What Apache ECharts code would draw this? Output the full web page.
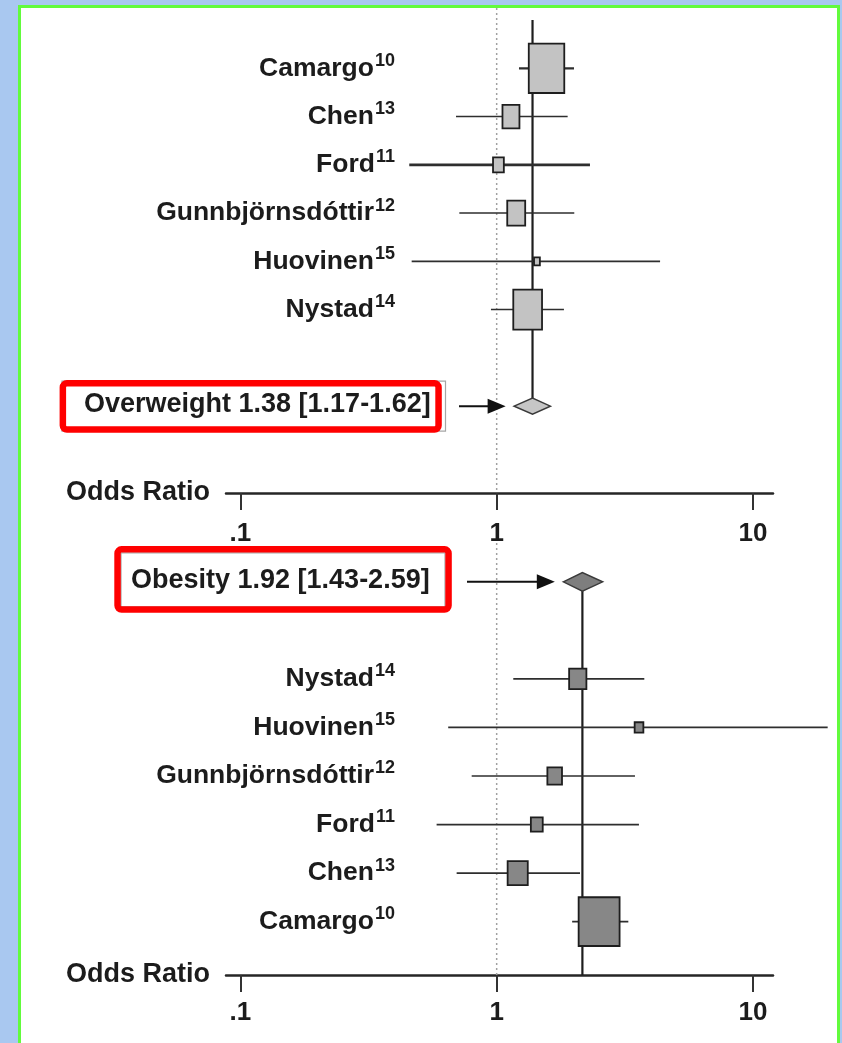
<!DOCTYPE html>
<html>
<head>
<meta charset="utf-8">
<script src="https://cdn.jsdelivr.net/npm/echarts@6/dist/echarts.min.js"></script>
<style>
  html, body { margin: 0; padding: 0; width: 842px; height: 1043px; overflow: hidden; background: #a9c8f0; }
  #frame { position: absolute; left: 18px; top: 5px; width: 822px; height: 1100px; box-sizing: border-box;
           border: 3px solid #62fb3c; background: #ffffff; }
  #chart { position: absolute; left: 0; top: 0; width: 842px; height: 1043px; }
</style>
</head>
<body>
<div id="frame"></div>
<div id="chart"></div>
<script>
// ---------------- DATA ----------------
// x axis (odds ratio, log scale)
const xTickValues = [0.1, 1, 10];
const xTickLabels = ['.1', '1', '10'];
const axisTitle = 'Odds Ratio';

// Upper panel: overweight
const owStudies = ['Camargo', 'Chen', 'Ford', 'Gunnbjörnsdóttir', 'Huovinen', 'Nystad'];
const owRefs    = ['10', '13', '11', '12', '15', '14'];
const owRows    = [1, 2, 3, 4, 5, 6];
const owOR      = [1.565, 1.137, 1.016, 1.192, 1.436, 1.321];
const owLow     = [1.222, 0.694, 0.456, 0.715, 0.466, 0.950];
const owHigh    = [2.003, 1.892, 2.312, 2.008, 4.34, 1.83];
const owWeight  = [44.2, 10.1, 4.1, 11.3, 1.2, 29.0];
const owPooledText = 'Overweight 1.38 [1.17-1.62]';
const owPooled  = [1.38, 1.17, 1.62];   // estimate, low, high
const owPooledRow = 8;

// Lower panel: obesity
const obStudies = ['Nystad', 'Huovinen', 'Gunnbjörnsdóttir', 'Ford', 'Chen', 'Camargo'];
const obRefs    = ['14', '15', '12', '11', '13', '10'];
const obRows    = [2, 3, 4, 5, 6, 7];
const obOR      = [2.072, 3.592, 1.684, 1.434, 1.208, 2.51];
const obLow     = [1.161, 0.647, 0.799, 0.583, 0.698, 1.97];
const obHigh    = [3.767, 19.56, 3.464, 3.59, 2.114, 3.263];
const obWeight  = [10.6, 2.7, 7.6, 5.0, 14.4, 59.6];
const obPooledText = 'Obesity 1.92 [1.43-2.59]';
const obPooled  = [2.16, 1.82, 2.59];   // as drawn: estimate, diamond left, diamond right
const obPooledRow = 0;

// ---------------- STYLE / LAYOUT ----------------
const FONT = '"Liberation Sans", Arial, Helvetica, sans-serif';
const TXT = '#1c1c1c';
const X_MIN = 0.0879, X_MAX = 11.97;
const LABEL_RIGHT = 395;

const panelStyle = [
  { fill: '#c3c3c3', diamondFill: '#c6c6c6', areaPerWeight: 39.6, aspect: 0.72, diamondH: 16,
    whiskerWidth: [2.2, 1.5, 2.6, 1.5, 1.6, 1.5],
    box: { x0: 59.6, x1: 441.8, h: 52.7, dy: 0.3 }, gray: { x0: 62, x1: 445.5, h: 50, dy: 0 },
    textLeft: 84, textDy: -1.5, arrowTail: 459 },
  { fill: '#878787', diamondFill: '#7e7e7e', areaPerWeight: 33.5, aspect: 0.84, diamondH: 18.5,
    whiskerWidth: [1.7, 1.7, 1.7, 1.7, 1.7, 1.7],
    box: { x0: 114.3, x1: 451.8, h: 66.7, dy: -2.4 }, gray: { x0: 121, x1: 445, h: 54, dy: -2 },
    textLeft: 131, textDy: -1.5, arrowTail: 467 }
];

function xLabel(v) {
  let best = 0;
  for (let i = 1; i < xTickValues.length; i++) {
    if (Math.abs(Math.log10(v) - Math.log10(xTickValues[i])) < Math.abs(Math.log10(v) - Math.log10(xTickValues[best]))) best = i;
  }
  return xTickLabels[best];
}

function makeXAxis(gridIndex, margin) {
  return {
    type: 'log', logBase: 10, gridIndex: gridIndex, min: X_MIN, max: X_MAX, position: 'bottom',
    name: axisTitle, nameLocation: 'start', nameGap: 16,
    nameTextStyle: { fontFamily: FONT, fontSize: 27, fontWeight: 'bold', color: TXT, align: 'right', verticalAlign: 'middle' },
    axisLine: { show: true, onZero: false, lineStyle: { color: '#262626', width: 2.5 } },
    axisTick: { show: true, customValues: xTickValues, length: 17, inside: false, lineStyle: { color: '#333', width: 2 } },
    axisLabel: { show: true, customValues: xTickValues, margin: margin, fontFamily: FONT, fontSize: 26,
                 fontWeight: 'bold', color: TXT, formatter: xLabel },
    splitLine: { show: false }, minorTick: { show: false }, minorSplitLine: { show: false }
  };
}

function makeYAxis(gridIndex, min, max) {
  return { type: 'value', gridIndex: gridIndex, inverse: true, min: min, max: max, show: false };
}

function refLine(gi, y0, y1) {
  return { type: 'line', xAxisIndex: gi, yAxisIndex: gi, data: [[1, y0], [1, y1]], symbol: 'none', silent: true, z: 1,
           lineStyle: { color: '#a0a0a0', width: 1.5, type: [2, 3] }, animation: false };
}

function pooledLine(gi, v, y0, y1) {
  return { type: 'line', xAxisIndex: gi, yAxisIndex: gi, data: [[v, y0], [v, y1]], symbol: 'none', silent: true, z: 2,
           lineStyle: { color: '#1e1e1e', width: 2.2 }, animation: false };
}

function studySeries(gi, names, refs, rows, or, lo, hi, w) {
  const st = panelStyle[gi];
  const data = rows.map((r, i) => [or[i], r, lo[i], hi[i], w[i], i]);
  return {
    type: 'custom', xAxisIndex: gi, yAxisIndex: gi, z: 5, clip: false, silent: true, animation: false,
    data: data,
    renderItem: function (params, api) {
      const i = api.value(5);
      const row = api.value(1);
      const c = api.coord([api.value(0), row]);
      const l = api.coord([api.value(2), row]);
      const h = api.coord([api.value(3), row]);
      const area = api.value(4) * st.areaPerWeight;
      const bw = Math.sqrt(area * st.aspect), bh = Math.sqrt(area / st.aspect);
      return {
        type: 'group',
        children: [
          { type: 'line', shape: { x1: l[0], y1: l[1], x2: h[0], y2: h[1] },
            style: { stroke: '#2e2e2e', lineWidth: st.whiskerWidth[i] } },
          { type: 'rect', shape: { x: c[0] - bw / 2, y: c[1] - bh / 2, width: bw, height: bh },
            style: { fill: st.fill, stroke: '#1e1e1e', lineWidth: 1.8 } },
          { type: 'text', x: LABEL_RIGHT, y: c[1],
            style: {
              text: '{n|' + names[i] + '}{s|' + refs[i] + '}',
              align: 'right', verticalAlign: 'middle',
              rich: {
                n: { fontFamily: FONT, fontSize: 26.5, fontWeight: 'bold', fill: TXT },
                s: { fontFamily: FONT, fontSize: 18, fontWeight: 'bold', fill: TXT, padding: [0, 0, 15, 1] }
              }
            } }
        ]
      };
    }
  };
}

function pooledSeries(gi, vals, row, text) {
  const st = panelStyle[gi];
  return {
    type: 'custom', xAxisIndex: gi, yAxisIndex: gi, z: 6, clip: false, silent: true, animation: false,
    data: [[vals[0], row, vals[1], vals[2]]],
    renderItem: function (params, api) {
      const r = api.value(1);
      const c = api.coord([api.value(0), r]);
      const l = api.coord([api.value(2), r]);
      const h = api.coord([api.value(3), r]);
      const dh = st.diamondH / 2;
      const b = st.box, g = st.gray, lw = 6.5;
      const tip = l[0] - 8.5;
      return {
        type: 'group',
        children: [
          { type: 'rect', shape: { x: g.x0, y: c[1] + g.dy - g.h / 2, width: g.x1 - g.x0, height: g.h },
            style: { fill: '#ffffff', stroke: '#a6a6a6', lineWidth: 1.2 } },
          { type: 'rect', shape: { x: b.x0 + lw / 2, y: c[1] + b.dy - b.h / 2 + lw / 2, width: b.x1 - b.x0 - lw, height: b.h - lw, r: 4 },
            style: { fill: 'none', stroke: '#ff0000', lineWidth: lw } },
          { type: 'text', x: st.textLeft, y: c[1] + st.textDy,
            style: { text: text, align: 'left', verticalAlign: 'middle', fontFamily: FONT, fontSize: 27, fontWeight: 'bold', fill: TXT } },
          { type: 'line', shape: { x1: st.arrowTail, y1: c[1], x2: tip - 14, y2: c[1] },
            style: { stroke: '#111', lineWidth: 2 } },
          { type: 'polygon', shape: { points: [[tip, c[1]], [tip - 18, c[1] - 7.5], [tip - 18, c[1] + 7.5]] },
            style: { fill: '#111' } },
          { type: 'polygon', shape: { points: [[l[0], c[1]], [c[0], c[1] - dh], [h[0], c[1]], [c[0], c[1] + dh]] },
            style: { fill: st.diamondFill, stroke: '#3a3a3a', lineWidth: 1.5 } }
        ]
      };
    }
  };
}

const chart = echarts.init(document.getElementById('chart'), null, { renderer: 'canvas' });
chart.setOption({
  backgroundColor: 'transparent',
  animation: false,
  grid: [
    { left: 226, width: 547, top: 8, height: 485 },
    { left: 226, width: 547, top: 543, height: 432 }
  ],
  xAxis: [makeXAxis(0, 28), makeXAxis(1, 25)],
  yAxis: [makeYAxis(0, -0.25, 9.8), makeYAxis(1, -0.8, 8.1)],
  series: [
    refLine(0, -0.25, 9.8),
    pooledLine(0, owPooled[0], 0, owPooledRow),
    studySeries(0, owStudies, owRefs, owRows, owOR, owLow, owHigh, owWeight),
    pooledSeries(0, owPooled, owPooledRow, owPooledText),
    refLine(1, -0.8, 8.1),
    pooledLine(1, obPooled[0], obPooledRow, 8.1),
    studySeries(1, obStudies, obRefs, obRows, obOR, obLow, obHigh, obWeight),
    pooledSeries(1, obPooled, obPooledRow, obPooledText)
  ]
});
</script>
</body>
</html>
